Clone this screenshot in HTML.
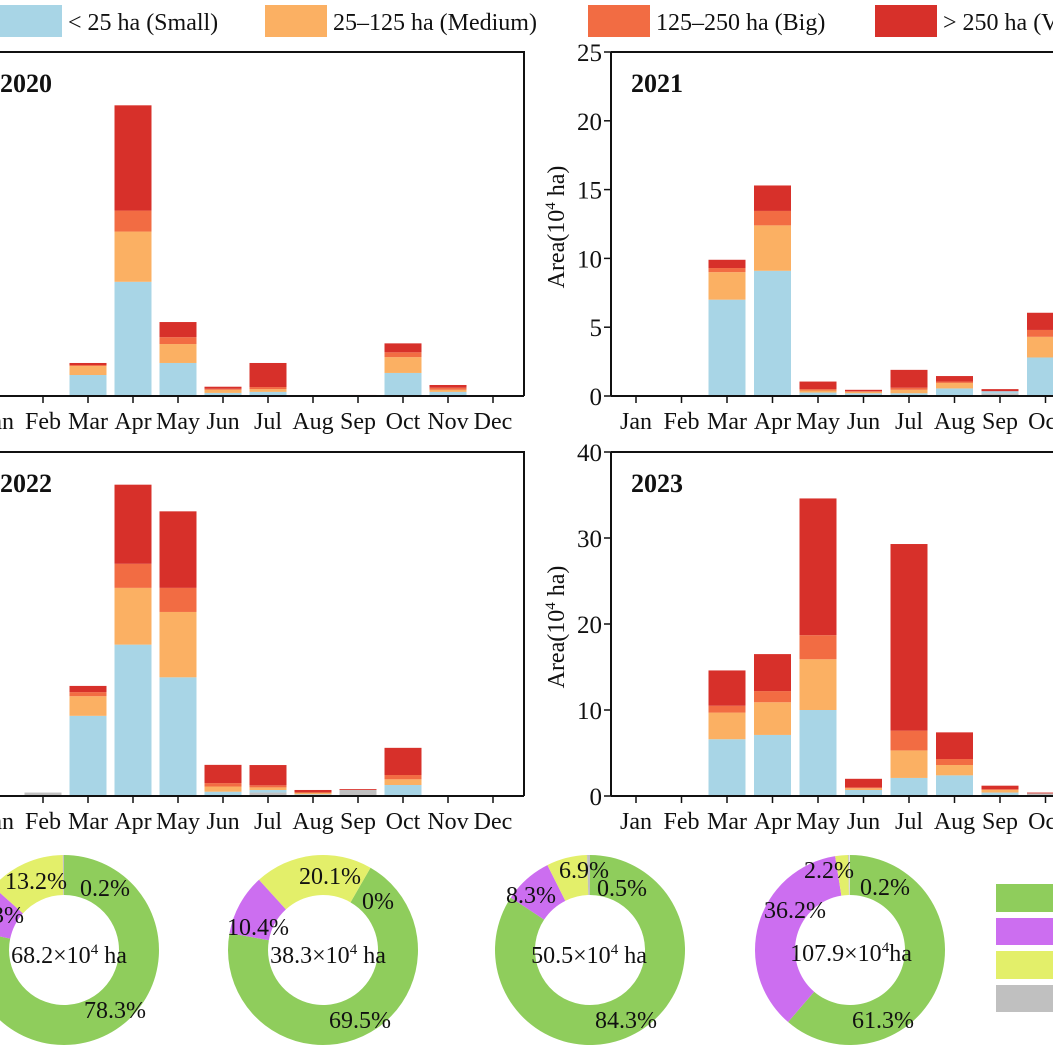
<!DOCTYPE html>
<html><head><meta charset="utf-8">
<style>
html,body{margin:0;padding:0;background:#fff;}
body{width:1053px;height:1053px;overflow:hidden;position:relative;font-family:"Liberation Serif",serif;}
svg{position:absolute;left:0;top:0;}
text{font-family:"Liberation Serif",serif;fill:#111;}
</style></head>
<body>
<svg id="fig" width="1053" height="1053" viewBox="0 0 1053 1053">
  <g id="legend">
    <g><rect x="0" y="5" width="62" height="32" fill="#a8d5e6"/><text x="68" y="30" font-size="24">&lt; 25 ha (Small)</text></g>
    <g><rect x="265" y="5" width="62" height="32" fill="#fbb063"/><text x="333" y="30" font-size="24">25–125 ha (Medium)</text></g>
    <g><rect x="588" y="5" width="62" height="32" fill="#f26c43"/><text x="656" y="30" font-size="24">125–250 ha (Big)</text></g>
    <g><rect x="875" y="5" width="62" height="32" fill="#d7302a"/><text x="943" y="30" font-size="24">&gt; 250 ha (Very big)</text></g>
  </g>
  <g id="panels"></g>
  <g id="donuts"></g>
  <g>
    <rect x="996" y="884" width="60" height="28" fill="#8fcd5c"/>
    <rect x="996" y="918" width="60" height="27" fill="#cc6ef0"/>
    <rect x="996" y="951" width="60" height="28" fill="#e3ef6a"/>
    <rect x="996" y="985" width="60" height="27" fill="#c0c0c0"/>
  </g>
</svg>
<script>
const months = ["Jan","Feb","Mar","Apr","May","Jun","Jul","Aug","Sep","Oct","Nov","Dec"];
const seriesColors = ["#c0c0c0","#a8d5e6","#fbb063","#f26c43","#d7302a"];
const seriesNames = ["other","small","medium","big","very-big"];
// 2020 (units 10^4 ha)
const other2020  = [0,0,0,0,0,0,0,0,0,0,0,0];
const small2020  = [0,0,3.05,16.6,4.8,0.45,0.6,0,0,3.35,0.6,0];
const medium2020 = [0,0,1.3,7.3,2.75,0.45,0.4,0,0,2.3,0.3,0];
const big2020    = [0,0,0.15,3.05,1.0,0.15,0.3,0,0,0.7,0.3,0];
const vbig2020   = [0,0,0.3,15.3,2.2,0.3,3.5,0,0.15,1.3,0.4,0];
// 2021
const other2021  = [0,0,0,0,0,0,0,0,0.2,0,0,0];
const small2021  = [0,0,7.0,9.1,0.25,0.2,0.2,0.55,0.15,2.8,0,0];
const medium2021 = [0,0,2.0,3.3,0.15,0.1,0.25,0.4,0,1.5,0,0];
const big2021    = [0,0,0.3,1.05,0.1,0.05,0.15,0.1,0,0.5,0,0];
const vbig2021   = [0,0,0.6,1.85,0.55,0.1,1.3,0.4,0.15,1.25,0,0];
// 2022
const other2022  = [0,0.2,0,0,0,0,0.2,0,0.35,0,0,0];
const small2022  = [0,0,4.66,8.8,6.9,0.25,0.15,0.1,0,0.64,0,0];
const medium2022 = [0,0,1.14,3.3,3.8,0.3,0.15,0.1,0,0.33,0,0];
const big2022    = [0,0,0.24,1.4,1.4,0.2,0.12,0,0,0.25,0,0];
const vbig2022   = [0,0,0.36,4.6,4.45,1.06,1.18,0.15,0.05,1.58,0.05,0];
// 2023
const other2023  = [0,0.1,0,0,0,0,0,0,0,0.3,0,0];
const small2023  = [0,0,6.6,7.1,10,0.7,2.1,2.4,0.4,0,0,0];
const medium2023 = [0,0,3.1,3.8,5.9,0.2,3.2,1.2,0.3,0,0,0];
const big2023    = [0,0,0.8,1.3,2.8,0.1,2.3,0.7,0.1,0,0,0];
const vbig2023   = [0,0,4.1,4.3,15.9,1.0,21.7,3.1,0.4,0.1,0,0];
const ticks2021 = [0,5,10,15,20,25];
const ticks2023 = [0,10,20,30,40];

const NS = "http://www.w3.org/2000/svg";
function mk(tag, attrs, parent){const e=document.createElementNS(NS,tag);for(const k in attrs)e.setAttribute(k,attrs[k]);parent.appendChild(e);return e;}

const panelsG = document.getElementById("panels");
const panels = [
  {year:"2020", left:-40, right:524, top:52, bottom:396, max:50, x0:-2, dx:45, axis:false, ticks:null, data:[other2020,small2020,medium2020,big2020,vbig2020], labelX:0},
  {year:"2021", left:611, right:1100, top:52, bottom:396, max:25, x0:636, dx:45.5, axis:true, ticks:ticks2021, data:[other2021,small2021,medium2021,big2021,vbig2021], labelX:631},
  {year:"2022", left:-40, right:524, top:452, bottom:796, max:20, x0:-2, dx:45, axis:false, ticks:null, data:[other2022,small2022,medium2022,big2022,vbig2022], labelX:0},
  {year:"2023", left:611, right:1100, top:452, bottom:796, max:40, x0:636, dx:45.5, axis:true, ticks:ticks2023, data:[other2023,small2023,medium2023,big2023,vbig2023], labelX:631}
];
panels.forEach(p=>{
  const g = mk("g",{},panelsG);
  
  
  const yScale = v => p.bottom - v/p.max*(p.bottom-p.top);
  const xScale = i => p.x0 + i*p.dx;
  const bw = 37;
  for(let i=0;i<12;i++){
    let acc=0;
    for(let s=0;s<5;s++){
      const v = p.data[s][i];
      if(v<=0) continue;
      const y1=yScale(acc), y2=yScale(acc+v);
      const r = mk("rect",{x:xScale(i)-bw/2,y:y2,width:bw,height:Math.max(y1-y2,0.6),fill:seriesColors[s]},g);
      
      
      acc+=v;
    }
  }
  // frame
  const fr = mk("path",{d:`M${p.left} ${p.top} H${p.right} ${p.axis?'':'V'+p.bottom} M${p.left} ${p.bottom} H${p.right} M${p.left} ${p.top} V${p.bottom}`,stroke:"#111","stroke-width":2,fill:"none"},g);
  
  
  // x ticks & labels
  for(let i=0;i<12;i++){
    mk("line",{x1:xScale(i),x2:xScale(i),y1:p.bottom,y2:p.bottom+7,stroke:"#111","stroke-width":1.5},g);
    const t = mk("text",{x:xScale(i),y:p.bottom+33,"font-size":24,"text-anchor":"middle"},g);
    t.textContent = months[i];
    
    
  }
  if(p.axis){
    p.ticks.forEach(v=>{
      mk("line",{x1:p.left-7,x2:p.left,y1:yScale(v),y2:yScale(v),stroke:"#111","stroke-width":1.5},g);
      const t = mk("text",{x:p.left-9,y:yScale(v)+9,"font-size":25,"text-anchor":"end"},g);
      t.textContent = v;
      
      
    });
    const cy = (p.top+p.bottom)/2+3;
    const yt = mk("text",{x:0,y:0,"font-size":24,"text-anchor":"middle",transform:`translate(564 ${cy}) rotate(-90)`},g);
    yt.innerHTML = 'Area(10<tspan dy="-9" font-size="15">4</tspan><tspan dy="9"> ha)</tspan>';
    
    
  }
  const yl = mk("text",{x:p.labelX,y:p.top+40,"font-size":26,"font-weight":"bold"},g);
  yl.textContent = p.year;
  
  
});

// Donuts
const donutColors = ["#8fcd5c","#cc6ef0","#e3ef6a","#c0c0c0"];
const donutTypes = ["green","purple","yellow","gray"];
const donutTotals = ["68.2","38.3","50.5","107.9"];
const share2020 = [78.3,8.3,13.2,0.2];
const share2021 = [69.5,10.4,20.1,0];
const share2022 = [84.3,8.3,6.9,0.5];
const share2023 = [61.3,36.2,2.2,0.2];
const donutG = document.getElementById("donuts");
const donuts = [
  {cx:64, cy:950, start:0, shares:share2020, year:"2020",
   labels:[["78.3%",115,1018],["8.3%",24,923,"end"],["13.2%",36,889],["0.2%",105,896]], center:[69,963]},
  {cx:323, cy:950, start:30, shares:share2021, year:"2021",
   labels:[["69.5%",360,1028],["10.4%",258,935],["20.1%",330,884],["0%",378,909]], center:[328,963]},
  {cx:590, cy:950, start:0, shares:share2022, year:"2022",
   labels:[["84.3%",626,1028],["8.3%",531,903],["6.9%",584,878],["0.5%",622,896]], center:[589,963]},
  {cx:850, cy:950, start:0, shares:share2023, year:"2023",
   labels:[["61.3%",883,1028],["36.2%",795,918],["2.2%",829,878],["0.2%",885,895]], center:[851,961]}
];
const R=95, r=55;
function arcPath(cx,cy,a0,a1){
  const rad=a=>(a-90)*Math.PI/180;
  const p=(rr,a)=>[cx+rr*Math.cos(rad(a)), cy+rr*Math.sin(rad(a))];
  const large=(a1-a0)>180?1:0;
  const [x1,y1]=p(R,a0),[x2,y2]=p(R,a1),[x3,y3]=p(r,a1),[x4,y4]=p(r,a0);
  return `M${x1} ${y1} A${R} ${R} 0 ${large} 1 ${x2} ${y2} L${x3} ${y3} A${r} ${r} 0 ${large} 0 ${x4} ${y4} Z`;
}
donuts.forEach(d=>{
  const g = mk("g",{},donutG);
  
  
  let a = d.start;
  d.shares.forEach((s,i)=>{
    if(s<=0) return;
    const a1 = a + s/100*360;
    const seg = mk("path",{d:arcPath(d.cx,d.cy,a,Math.min(a1,a+359.99)),fill:donutColors[i]},g);
    
    
    a = a1;
  });
  d.labels.forEach(l=>{
    const t = mk("text",{x:l[1],y:l[2],"font-size":24,"text-anchor":l[3]||"middle",fill:"#1a2a10"},g);
    t.textContent = l[0];
    
    
  });
  const c = mk("text",{x:d.center[0],y:d.center[1],"font-size":24,"text-anchor":"middle"},g);
  c.innerHTML = d.year==="2023"
    ? '107.9×10<tspan dy="-9" font-size="15">4</tspan><tspan dy="9">ha</tspan>'
    : donutTotals[donuts.indexOf(d)]+'×10<tspan dy="-9" font-size="15">4</tspan><tspan dy="9"> ha</tspan>';
  
  
});
</script>
</body></html>
